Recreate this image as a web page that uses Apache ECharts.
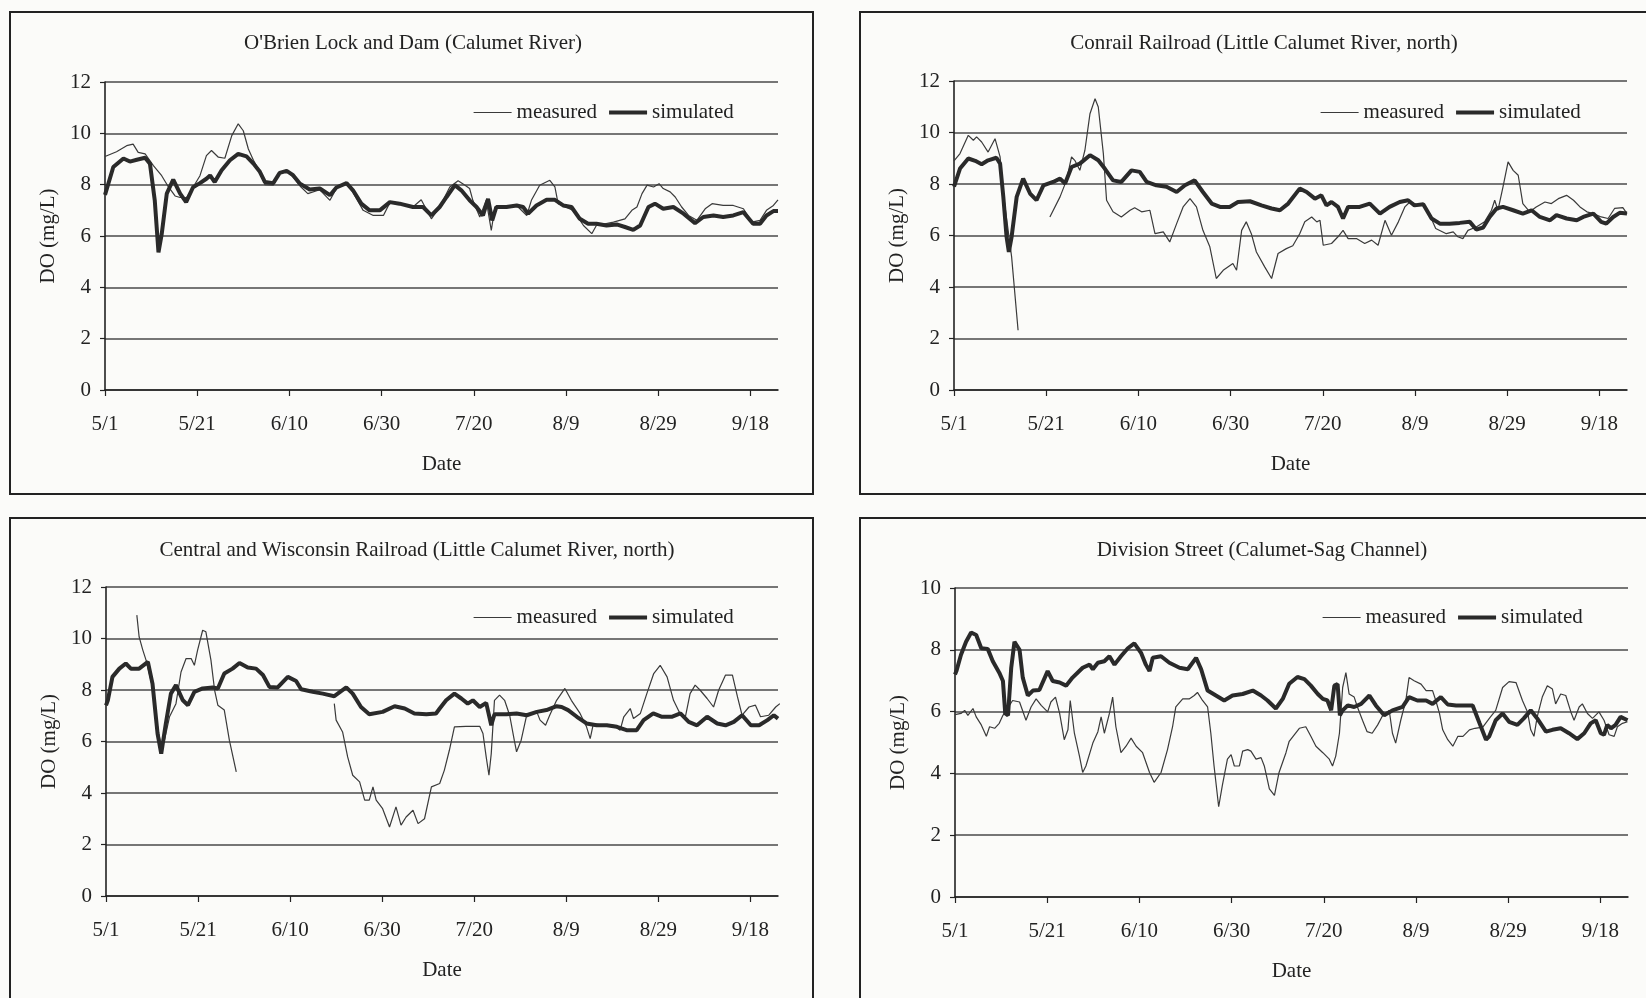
<!DOCTYPE html>
<html>
<head>
<meta charset="utf-8">
<title>DO measured vs simulated</title>
<script src="https://cdn.jsdelivr.net/npm/echarts@6/dist/echarts.min.js"></script>
<style>
  html, body { margin: 0; padding: 0; background: #fbfbf9; }
  #chart { width: 1646px; height: 998px; }
</style>
</head>
<body>
<div id="chart"></div>
<script>
/* x = days after 5/1, y = DO (mg/L) */
const tickDays = [0, 20, 40, 60, 80, 100, 120, 140];

const obrienMeas = [[0,9.1],[0.4,9.13],[2.5,9.28],[4.7,9.52],[6.1,9.58],[7.2,9.26],[8.7,9.2],[10.5,8.74],[12.3,8.35],[13.7,7.93],[15.2,7.56],[16.3,7.5],[17.7,7.5],[19.1,7.9],[20.6,8.35],[22,9.13],[23.1,9.33],[24.6,9.07],[26,9.03],[27.5,9.91],[28.9,10.37],[30,10.1],[31.1,9.39],[32.2,8.95],[33.6,8.5],[34.7,8.0],[36.5,7.98],[37.9,8.46],[39.4,8.54],[40.8,8.3],[42.3,7.95],[44,7.65],[46.6,7.8],[48.8,7.39],[50.2,7.85],[52.4,8.06],[53.8,7.7],[56,7.0],[58.2,6.8],[60.4,6.8],[61.8,7.3],[63.9,7.26],[66.8,7.13],[68.6,7.41],[70.8,6.67],[72.6,7.13],[74.8,7.91],[76.6,8.15],[78.1,7.98],[79.1,7.85],[79.8,7.39],[81.3,6.74],[82.7,7.39],[83.8,6.22],[84.6,7.13],[87.1,7.13],[89.3,7.19],[91.5,6.8],[92.5,7.39],[94.3,7.98],[96.5,8.17],[97.6,7.91],[98.3,7.26],[101.6,7.0],[103.8,6.41],[105.6,6.09],[106.6,6.41],[110.3,6.54],[112.8,6.67],[114.3,7.0],[115.4,7.13],[116.5,7.65],[117.6,7.98],[119,7.91],[120.2,8.04],[121.1,7.85],[122.6,7.72],[123.7,7.52],[125.1,7.13],[126.6,6.8],[128.4,6.61],[130.2,7.06],[131.7,7.26],[134.1,7.19],[136.3,7.19],[138.5,7.06],[140.3,6.54],[142.1,6.61],[143.5,7.0],[145,7.19],[146,7.41]];
const obrienSim = [[0,7.6],[0.4,7.65],[1.8,8.69],[4,9.02],[5.4,8.9],[6.9,8.97],[8.7,9.05],[9.75,8.82],[10.8,7.38],[11.6,5.36],[12.3,6.07],[13.4,7.65],[14.8,8.2],[16.3,7.65],[17.6,7.32],[19.1,7.9],[20.6,8.06],[22,8.23],[22.8,8.36],[23.8,8.1],[25.3,8.56],[27.1,8.95],[28.9,9.2],[30.7,9.1],[32.2,8.82],[33.6,8.5],[34.7,8.1],[36.5,8.06],[37.9,8.46],[39.4,8.54],[40.8,8.37],[42.3,8.04],[44.4,7.81],[46.6,7.85],[48.8,7.59],[50.2,7.89],[52.4,8.06],[53.8,7.78],[55.6,7.26],[57.4,7.0],[59.6,7.0],[61.8,7.32],[63.9,7.26],[66.8,7.13],[69,7.13],[70.8,6.8],[72.6,7.13],[74.1,7.52],[75.9,7.98],[77.3,7.78],[79.1,7.39],[80.6,7.13],[82,6.8],[83.1,7.45],[84,6.61],[84.9,7.13],[87.1,7.13],[89.3,7.19],[90.7,7.13],[91.8,6.87],[93.6,7.19],[95.8,7.41],[97.6,7.41],[99.4,7.19],[101.2,7.13],[103,6.67],[104.8,6.48],[106.6,6.48],[108.8,6.41],[111,6.45],[112.8,6.35],[114.6,6.24],[116.1,6.41],[117.9,7.13],[119.3,7.26],[121.1,7.06],[123.3,7.13],[125.5,6.87],[128,6.5],[129.8,6.74],[132,6.8],[134.1,6.74],[136.3,6.8],[138.5,6.93],[140.6,6.48],[142.1,6.48],[143.5,6.8],[145,6.97],[146,6.97]];

const conrailMeas = [[0,8.9],[0.2,8.92],[1.3,9.18],[3.1,9.89],[4.2,9.7],[4.9,9.83],[6,9.63],[7.4,9.24],[8.9,9.76],[10,9.05],[10.7,7.63],[12.5,5.17],[13.9,2.32],[17,null],[20.8,6.72],[23,7.5],[24.4,8.14],[25.5,9.05],[26.2,8.92],[27.3,8.53],[28.4,9.31],[29.5,10.73],[30.6,11.31],[31.3,10.99],[32.4,9.18],[33.1,7.37],[34.5,6.92],[36.3,6.72],[38.2,6.98],[39.2,7.08],[40.7,6.92],[42.5,6.98],[43.6,6.07],[45.4,6.14],[46.8,5.75],[48.3,6.46],[49.7,7.11],[51.2,7.43],[52.6,7.11],[54,6.2],[55.5,5.56],[56.9,4.33],[58.4,4.65],[60.5,4.91],[61.3,4.65],[62.4,6.2],[63.4,6.53],[64.5,6.07],[65.6,5.36],[67.4,4.78],[68.9,4.33],[70.3,5.3],[72.1,5.49],[73.5,5.6],[75,6.07],[76.1,6.53],[77.6,6.72],[78.7,6.53],[79.4,6.59],[80.1,5.62],[81.9,5.69],[83.3,5.95],[84.4,6.2],[85.5,5.88],[87.3,5.88],[89.1,5.69],[90.6,5.82],[92,5.62],[93.5,6.59],[94.9,6.01],[96.4,6.53],[97.8,7.11],[98.9,7.3],[100.5,7.2],[102,7.2],[103.2,6.8],[104.5,6.27],[106.8,6.07],[108.3,6.14],[109.3,5.95],[110.4,5.88],[111.5,6.2],[113.3,6.33],[115.1,6.53],[116.6,6.98],[117.3,7.37],[118,6.98],[119.1,7.89],[120.2,8.86],[121.3,8.53],[122.4,8.34],[123.4,7.24],[124.9,6.92],[126.3,7.11],[128.2,7.3],[129.6,7.24],[131.1,7.43],[132.9,7.56],[134.4,7.37],[135.8,7.11],[137.3,6.92],[138.7,6.85],[140.4,6.72],[141.9,6.66],[143.3,7.05],[145.1,7.08],[146,6.85]];
const conrailSim = [[0,7.9],[0.2,8.0],[1.3,8.6],[3.1,8.99],[4.6,8.9],[6,8.77],[7.4,8.92],[9.2,9.02],[10,8.79],[10.7,7.5],[11.4,5.95],[11.9,5.36],[12.5,5.95],[13.6,7.5],[15,8.21],[16.5,7.63],[17.9,7.37],[19.4,7.95],[21.5,8.08],[23,8.21],[24.1,8.02],[25.5,8.66],[27.3,8.79],[29.5,9.12],[31.3,8.92],[32.7,8.6],[34.5,8.14],[36.3,8.08],[38.5,8.53],[40.3,8.47],[41.8,8.08],[43.9,7.95],[46.1,7.89],[48.3,7.69],[50.1,7.95],[52.2,8.14],[54,7.69],[55.9,7.24],[57.7,7.11],[59.8,7.11],[61.6,7.3],[64.2,7.33],[66.7,7.17],[68.9,7.05],[70.7,6.98],[72.5,7.24],[75,7.82],[76.5,7.69],[78.3,7.43],[79.7,7.56],[80.8,7.17],[81.9,7.3],[83.3,7.11],[84.4,6.66],[85.5,7.11],[88,7.11],[90.2,7.24],[92.4,6.85],[94.5,7.11],[96.7,7.3],[98.5,7.37],[99.9,7.17],[101.8,7.21],[103.6,6.66],[105.4,6.46],[107.5,6.46],[109.7,6.49],[111.9,6.53],[113.3,6.23],[114.8,6.31],[116.2,6.72],[117.7,7.05],[119.1,7.11],[121.3,6.98],[123.4,6.85],[125.3,6.98],[127.1,6.72],[129.3,6.59],[130.7,6.79],[132.9,6.66],[135.1,6.59],[136.5,6.72],[138.7,6.85],[140.4,6.53],[141.5,6.46],[143,6.72],[144.4,6.88],[146,6.85]];

const cwMeas = [[6.7,10.91],[7.2,10.06],[8,9.55],[8.7,9.16],[10.1,8.12],[11.2,6.57],[12,5.79],[12.7,6.05],[13.8,6.96],[15.2,7.47],[16.3,8.7],[17.4,9.22],[18.5,9.22],[19.2,8.96],[19.9,9.55],[21,10.32],[21.7,10.26],[22.8,9.16],[23.6,7.99],[24.3,7.41],[25.7,7.22],[26.8,6.05],[28.3,4.82],[40,null],[49.6,7.47],[50,6.83],[51.4,6.37],[52.5,5.4],[53.6,4.69],[55.1,4.43],[56.2,3.72],[57.2,3.72],[58,4.24],[58.7,3.72],[60.1,3.39],[61.6,2.68],[63,3.46],[64.1,2.75],[65.2,3.07],[66.7,3.33],[67.8,2.81],[69.2,3.0],[70.7,4.24],[72.5,4.37],[73.5,4.88],[74.6,5.66],[75.7,6.57],[78.2,6.59],[81.2,6.59],[81.9,6.31],[82.6,5.4],[83.2,4.69],[83.7,5.53],[84.4,7.6],[85.5,7.8],[86.6,7.6],[87.7,7.02],[88.7,6.05],[89.2,5.6],[90.2,6.05],[91.4,7.02],[93.6,7.15],[94.3,6.83],[95.5,6.63],[96.4,7.02],[97.9,7.6],[99.7,8.06],[101.1,7.6],[103,7.09],[104.4,6.57],[105.2,6.11],[105.9,6.7],[108.1,6.63],[110.3,6.63],[111.7,6.44],[112.5,6.96],[113.9,7.28],[114.6,6.89],[116.1,7.09],[117.5,7.86],[119,8.64],[120.4,8.96],[121.9,8.51],[123.3,7.6],[124.7,7.09],[125.8,6.89],[126.9,7.86],[128,8.19],[129.1,7.99],[130.6,7.67],[132,7.34],[133.1,7.99],[134.6,8.58],[136.1,8.58],[137.2,7.73],[138.2,7.02],[139.7,7.34],[141.1,7.41],[142.2,6.96],[144,7.02],[145.5,7.34],[146.4,7.47]];
const cwSim = [[0,7.4],[0.4,7.6],[1.4,8.51],[2.9,8.83],[4.3,9.03],[5.4,8.83],[7.2,8.83],[9.1,9.09],[10.1,8.25],[11.2,6.31],[12,5.53],[13,6.7],[14.1,7.86],[15.2,8.19],[16.7,7.6],[17.8,7.41],[19.2,7.93],[21,8.06],[23.2,8.1],[24.3,8.06],[25.7,8.64],[27.5,8.83],[29,9.05],[30.8,8.87],[32.6,8.83],[34.1,8.58],[35.5,8.12],[37.3,8.1],[39.5,8.51],[41.3,8.35],[42.4,8.03],[44.9,7.93],[47.1,7.86],[49.6,7.76],[52.2,8.1],[53.6,7.86],[55.4,7.34],[57.2,7.06],[60.1,7.15],[62.7,7.37],[64.9,7.28],[67,7.09],[69.6,7.06],[71.7,7.09],[72.5,7.28],[73.9,7.6],[75.7,7.86],[77.2,7.67],[78.6,7.47],[79.7,7.6],[81.2,7.34],[82.6,7.5],[83.7,6.63],[84.4,7.06],[87,7.06],[89.2,7.09],[91.4,7.02],[93.6,7.15],[95.7,7.22],[97.9,7.37],[99,7.34],[100.4,7.22],[102.3,6.96],[104.4,6.7],[106.6,6.63],[108.8,6.63],[111,6.57],[113.1,6.44],[115.3,6.44],[116.8,6.83],[118.9,7.09],[120.8,6.96],[122.9,6.96],[124.8,7.09],[126.6,6.76],[128.4,6.63],[130.6,6.96],[132.8,6.7],[134.6,6.63],[136.4,6.76],[138.2,7.02],[140.1,6.63],[141.9,6.63],[143.7,6.83],[145.1,7.02],[146,6.89]];

const divMeas = [[0,5.9],[0.3,5.94],[1.3,5.94],[2.1,6.04],[2.8,5.88],[3.9,6.1],[4.6,5.83],[5.7,5.57],[6.8,5.2],[7.5,5.51],[8.6,5.46],[9.6,5.62],[10.4,5.88],[11.1,6.04],[12.5,6.36],[14,6.31],[15.4,5.72],[16.5,6.15],[17.6,6.41],[18.7,6.2],[20.1,5.99],[20.8,6.31],[21.8,6.47],[22.7,5.94],[23.7,5.09],[24.5,5.41],[25,6.36],[25.9,5.3],[27,4.56],[27.7,4.03],[28.4,4.24],[29.9,4.98],[31,5.35],[31.7,5.83],[32.4,5.3],[33.5,5.94],[34.2,6.47],[34.9,5.51],[36,4.67],[37.1,4.88],[38.2,5.14],[39.3,4.88],[40.7,4.67],[42.2,4.03],[43.2,3.71],[44.7,4.03],[46.1,4.77],[47.2,5.51],[47.9,6.15],[49.4,6.41],[50.8,6.41],[51.9,6.52],[52.6,6.62],[53.7,6.36],[54.8,6.15],[55.5,5.3],[56.2,4.24],[57.2,2.92],[58,3.61],[59.1,4.46],[59.9,4.61],[60.6,4.24],[61.7,4.24],[62.4,4.72],[63.5,4.77],[64.2,4.72],[65.3,4.46],[66.4,4.51],[67.1,4.24],[68.2,3.5],[69.3,3.29],[70.3,4.03],[71.8,4.67],[72.5,5.04],[74.7,5.46],[76.1,5.51],[77.2,5.2],[78.3,4.88],[79.8,4.67],[81.2,4.46],[81.9,4.24],[82.6,4.56],[83.4,5.3],[84.1,6.78],[84.8,7.26],[85.5,6.57],[86.6,6.47],[87.3,6.15],[88.4,5.72],[89.4,5.35],[90.5,5.3],[91.7,5.57],[92.8,5.88],[94.2,6.04],[94.9,5.3],[95.6,4.98],[96.7,5.72],[97.8,6.36],[98.5,7.1],[99.6,7.0],[101.1,6.89],[102.2,6.68],[103.6,6.68],[104.3,6.36],[105.1,5.94],[105.8,5.41],[106.9,5.09],[108,4.88],[109.1,5.2],[110.2,5.2],[111.6,5.41],[112.8,5.46],[114.5,5.5],[116,5.8],[117.3,6.04],[118.8,6.78],[120.2,6.97],[121.7,6.94],[123.1,6.36],[124.2,5.99],[124.9,5.41],[125.6,5.2],[126.3,5.83],[127.4,6.47],[128.5,6.84],[129.6,6.73],[130.3,6.25],[131.4,6.57],[132.5,6.52],[133.6,5.99],[134.3,5.72],[135.4,6.15],[136.1,6.25],[137.2,5.94],[138.3,5.78],[139.7,5.99],[140.8,5.72],[141.9,5.25],[143,5.2],[143.7,5.51],[144.8,5.62],[145.9,5.67]];
const divSim = [[0,7.2],[0.3,7.31],[1.3,7.84],[2.4,8.26],[3.5,8.56],[4.6,8.48],[5.7,8.05],[7.1,8.03],[8.2,7.63],[9.6,7.26],[10.4,6.99],[10.9,5.94],[11.5,5.88],[12.2,7.42],[12.9,8.26],[14,8.0],[14.7,7.1],[15.8,6.52],[16.9,6.68],[18.3,6.7],[20.1,7.31],[21.2,6.99],[22.7,6.94],[24.1,6.84],[25.5,7.1],[27.7,7.42],[29.2,7.52],[29.9,7.37],[31,7.58],[32.4,7.63],[33.5,7.79],[34.6,7.52],[36,7.79],[37.5,8.05],[38.9,8.21],[40.4,7.89],[41.4,7.52],[42.2,7.31],[42.9,7.74],[44.7,7.79],[46.5,7.58],[48.7,7.42],[50.5,7.37],[52.3,7.74],[53.4,7.37],[54.8,6.68],[56.6,6.52],[58.4,6.36],[60.2,6.52],[62.4,6.57],[64.6,6.68],[66.4,6.52],[67.8,6.36],[69.6,6.1],[71.1,6.41],[72.5,6.9],[74.3,7.12],[75.8,7.05],[77.2,6.84],[78.7,6.57],[79.8,6.41],[80.8,6.36],[81.6,6.04],[82.3,6.84],[83,6.89],[83.5,5.88],[84.1,6.04],[85.2,6.2],[86.6,6.15],[88.1,6.25],[89.9,6.52],[91.3,6.2],[93.1,5.88],[94.9,6.04],[97.1,6.15],[98.5,6.47],[100.3,6.36],[102.2,6.36],[103.6,6.25],[105.4,6.47],[106.9,6.23],[108.7,6.2],[110.9,6.2],[112.3,6.2],[113.8,5.62],[115.2,5.09],[115.9,5.2],[117.3,5.72],[118.8,5.94],[120.2,5.67],[122,5.57],[123.4,5.78],[124.9,6.04],[126.3,5.78],[128.2,5.35],[129.6,5.41],[131.4,5.46],[133.2,5.3],[135,5.11],[136.5,5.3],[137.9,5.62],[139,5.72],[140.1,5.3],[140.8,5.25],[141.5,5.57],[142.3,5.46],[143.3,5.57],[144.4,5.83],[145.9,5.72]];

const FONT = "'Liberation Serif', 'Times New Roman', serif";
const FS = 21;
const INK = '#222';

/* 패널 배치 (px) */
const panels = [
  { title: "O'Brien Lock and Dam (Calumet River)", meas: obrienMeas, sim: obrienSim, ymax: 12,
    grid: { left: 105, top: 82, width: 673, height: 308 }, box: [10, 12, 803, 482], titleAt: [413, 43], legendAt: [468, 97] },
  { title: 'Conrail Railroad (Little Calumet River, north)', meas: conrailMeas, sim: conrailSim, ymax: 12,
    grid: { left: 954, top: 81, width: 673, height: 309 }, box: [860, 12, 800, 482], titleAt: [1264, 43], legendAt: [1315, 97] },
  { title: 'Central and Wisconsin Railroad (Little Calumet River, north)', meas: cwMeas, sim: cwSim, ymax: 12,
    grid: { left: 106, top: 587, width: 672, height: 309 }, box: [10, 518, 803, 500], titleAt: [417, 550], legendAt: [468, 602] },
  { title: 'Division Street (Calumet-Sag Channel)', meas: divMeas, sim: divSim, ymax: 10,
    grid: { left: 955, top: 588, width: 673, height: 309 }, box: [860, 518, 800, 500], titleAt: [1262, 550], legendAt: [1317, 602] },
];

const fmtDay = (d) => {
  const t = new Date(Date.UTC(2001, 4, 1) + Math.round(d) * 864e5);
  return (t.getUTCMonth() + 1) + '/' + t.getUTCDate();
};

const option = {
  backgroundColor: '#fbfbf9',
  animation: false,
  grid: [], xAxis: [], yAxis: [], series: [], legend: [], graphic: [],
};

panels.forEach((p, i) => {
  option.grid.push(Object.assign({ outerBoundsMode: 'none' }, p.grid));

  option.xAxis.push({
    type: 'value', gridIndex: i, min: 0, max: 146, interval: 20,
    name: 'Date', nameLocation: 'middle', nameGap: 64,
    nameTextStyle: { fontFamily: FONT, fontSize: FS, color: INK },
    axisLine: { onZero: true, lineStyle: { color: INK, width: 1.6 } },
    axisTick: { show: true, length: 6, customValues: tickDays, lineStyle: { color: INK, width: 1.2 } },
    axisLabel: { customValues: tickDays, formatter: fmtDay, margin: 24,
      fontFamily: FONT, fontSize: FS, color: INK },
    splitLine: { show: false },
  });

  option.yAxis.push({
    type: 'value', gridIndex: i, min: 0, max: p.ymax, interval: 2,
    name: 'DO (mg/L)', nameLocation: 'middle', nameGap: 46,
    nameTextStyle: { fontFamily: FONT, fontSize: FS, color: INK },
    axisLine: { show: true, lineStyle: { color: INK, width: 1.6 } },
    axisTick: { show: true, length: 5, lineStyle: { color: INK, width: 1.2 } },
    axisLabel: { margin: 14, fontFamily: FONT, fontSize: FS, color: INK },
    splitLine: { show: true, lineStyle: { color: '#4a4a4a', width: 1.6 } },
  });

  option.series.push({
    name: 'measured', type: 'line', xAxisIndex: i, yAxisIndex: i,
    data: p.meas, symbol: 'none', connectNulls: false,
    lineStyle: { color: '#3a3a3a', width: 1.2 }, itemStyle: { color: '#3a3a3a' },
  });
  option.series.push({
    name: 'simulated', type: 'line', xAxisIndex: i, yAxisIndex: i,
    data: p.sim, symbol: 'none', z: 3,
    lineStyle: { color: '#2a2a2a', width: 4 }, itemStyle: { color: '#2a2a2a' },
  });

  /* 범례: 선 샘플만 (심볼 숨김, 선 두께는 시리즈 따라감) */
  option.legend.push({
    left: p.legendAt[0], top: p.legendAt[1], orient: 'horizontal',
    itemWidth: 38, itemHeight: 14, itemGap: 10, selectedMode: false,
    data: ['measured', 'simulated'],
    itemStyle: { opacity: 0 },
    lineStyle: { width: 'inherit' },
    textStyle: { fontFamily: FONT, fontSize: FS, color: INK },
  });

  option.graphic.push({
    type: 'rect', silent: true,
    shape: { x: p.box[0], y: p.box[1], width: p.box[2], height: p.box[3] },
    style: { fill: 'none', stroke: INK, lineWidth: 2 },
  });
  option.graphic.push({
    type: 'text', silent: true, x: p.titleAt[0], y: p.titleAt[1],
    style: { text: p.title, fontFamily: FONT, fontSize: FS, fill: INK, align: 'center', verticalAlign: 'middle' },
  });
});

const chart = echarts.init(document.getElementById('chart'), null, { renderer: 'canvas' });
chart.setOption(option);
</script>
</body>
</html>
